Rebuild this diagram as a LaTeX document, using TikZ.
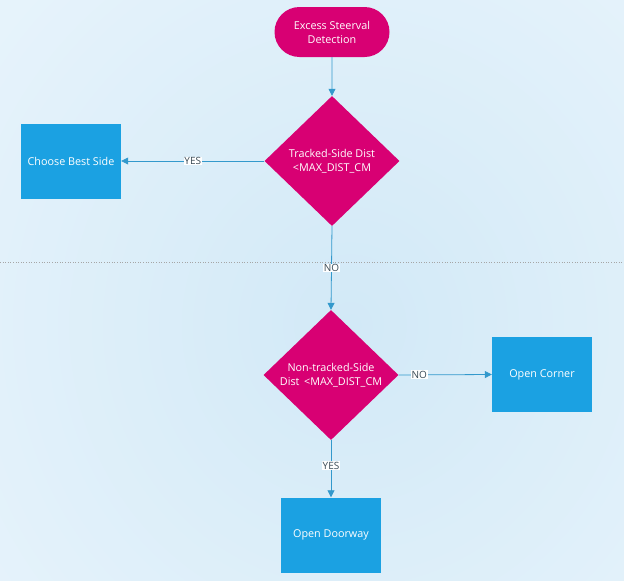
\documentclass[tikz,border=0pt]{standalone}
\usepackage{fontspec}
\setmainfont{Open Sans}
\usetikzlibrary{shapes.geometric,shapes.misc,arrows.meta}
\definecolor{mag}{HTML}{D80073}
\definecolor{tileblue}{HTML}{1BA1E2}
\definecolor{conn}{HTML}{3399CC}
\definecolor{bgout}{HTML}{E6F3FB}
\definecolor{bgin}{HTML}{D2E9F7}
\definecolor{lbl}{HTML}{3A4A55}
\begin{document}
\begin{tikzpicture}[x=1pt,y=-1pt,
  term/.style={draw=none,fill=mag,text=white,rounded rectangle,minimum width=115pt,minimum height=50pt,font=\fontsize{10.8}{14}\selectfont,align=center,inner sep=0pt},
  decision/.style={draw=none,fill=mag,text=white,diamond,aspect=1.04,minimum width=135pt,minimum height=130pt,inner sep=0pt,font=\fontsize{10.8}{14}\selectfont,align=center},
  tile/.style={draw=none,fill=tileblue,text=white,minimum width=100pt,minimum height=75pt,inner sep=0pt,font=\fontsize{10.8}{14}\selectfont,align=center},
  conn/.style={draw=conn,line width=0.8pt,-{Triangle[length=7pt,width=7pt]}},
  lab/.style={fill=white,text=lbl,inner sep=0.8pt,font=\fontsize{10}{12}\selectfont}
]
\useasboundingbox (0,0) rectangle (624,581);
\shade[inner color=bgin,outer color=bgout] (-100,-150) rectangle (800,800);
\draw[gray!70,dotted,line width=0.6pt] (0,262) -- (624,262);

\node[term] (start) at (332,32) {Excess Steerval\\Detection};
\node[decision] (d1) at (332,161) {Tracked-Side Dist\\<MAX\_DIST\_CM};
\node[tile] (best) at (71,161) {Choose Best Side};
\node[decision] (d2) at (331,375) {Non-tracked-Side\\Dist \,<MAX\_DIST\_CM};
\node[tile] (corner) at (542,374.5) {Open Corner};
\node[tile] (door) at (331,535) {Open Doorway};

\draw[conn] (start) -- (d1);
\draw[conn] (d1.west) -- node[lab,pos=0.5]{YES} (best.east);
\draw[conn] (d1.south) -- node[lab,pos=0.5]{NO} (d2.north);
\draw[conn] (d2.east) -- node[lab,pos=0.22]{NO} (corner.west);
\draw[conn] (d2.south) -- node[lab,pos=0.45]{YES} (door.north);
\end{tikzpicture}
\end{document}
